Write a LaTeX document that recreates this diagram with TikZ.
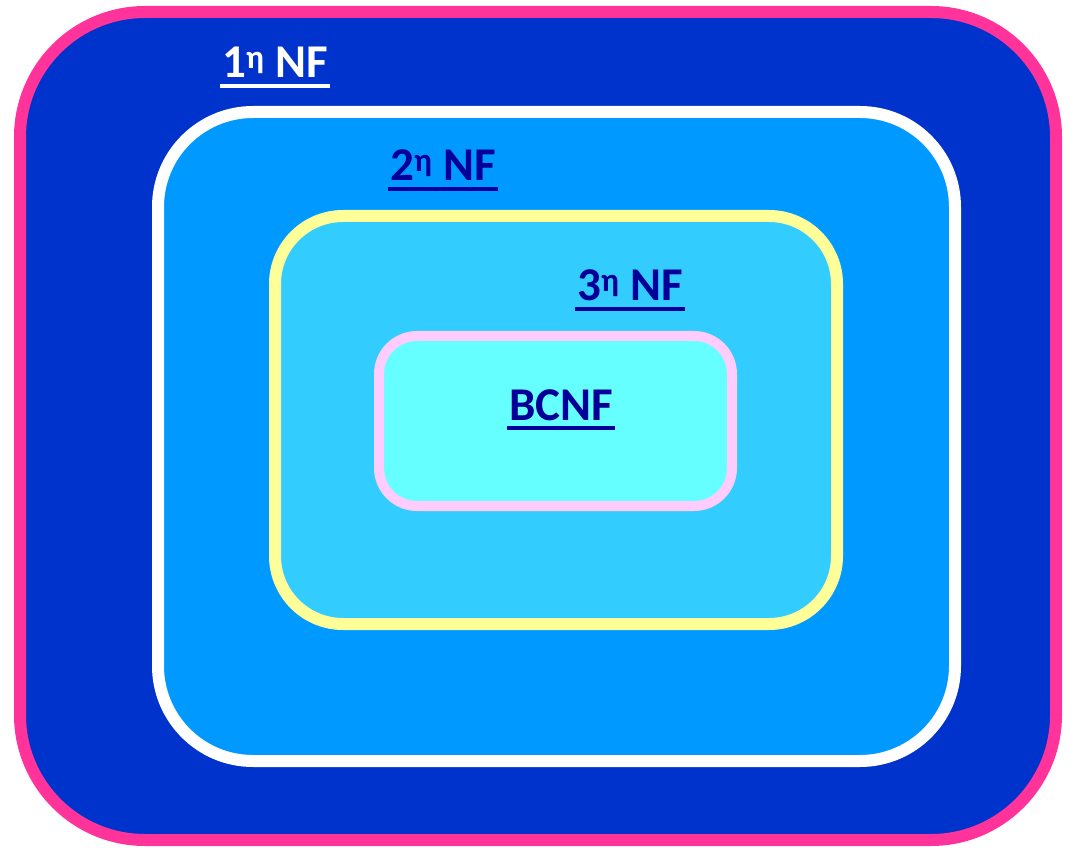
\documentclass[tikz,border=0pt]{standalone}
\usepackage{fontspec}
\setmainfont{Carlito}
\definecolor{nfpink}{HTML}{FF3399}
\definecolor{nfdark}{HTML}{0033CC}
\definecolor{nfmid}{HTML}{0099FF}
\definecolor{nfyellow}{HTML}{FFFF99}
\definecolor{nflight}{HTML}{33CCFF}
\definecolor{nflilac}{HTML}{FFCCFF}
\definecolor{nfcyan}{HTML}{66FFFF}
\definecolor{nfnavy}{HTML}{000099}
\tikzset{
  levelbox/.style={line width=12pt},
  levellabel/.style={inner sep=0pt, anchor=base, font=\fontsize{47}{50}\selectfont\bfseries},
  underbar/.style={line width=4pt}
}
\begin{document}
\begin{tikzpicture}[x=1pt,y=-1pt]
  \useasboundingbox (0,0) rectangle (1074,850);
  % nested normal-form regions
  \draw[levelbox, draw=nfpink, fill=nfdark, rounded corners=125pt] (20,12) rectangle (1056,840);
  \draw[levelbox, draw=white, fill=nfmid, rounded corners=95pt] (158,112) rectangle (955,761);
  \draw[levelbox, draw=nfyellow, fill=nflight, rounded corners=68pt] (275,216) rectangle (837,624);
  \draw[levelbox, line width=10pt, draw=nflilac, fill=nfcyan, rounded corners=38pt] (379,336) rectangle (732,506);
  % labels with underlines
  \node[levellabel, text=white] (nf1) at (275,78) {1\textsuperscript{η} NF};
  \draw[underbar, white] ([xshift=-2pt,yshift=-8pt]nf1.base west) -- ([xshift=2pt,yshift=-8pt]nf1.base east);
  \node[levellabel, text=nfnavy] (nf2) at (443,181) {2\textsuperscript{η} NF};
  \draw[underbar, nfnavy] ([xshift=-2pt,yshift=-8pt]nf2.base west) -- ([xshift=2pt,yshift=-8pt]nf2.base east);
  \node[levellabel, text=nfnavy] (nf3) at (630,301) {3\textsuperscript{η} NF};
  \draw[underbar, nfnavy] ([xshift=-2pt,yshift=-8pt]nf3.base west) -- ([xshift=2pt,yshift=-8pt]nf3.base east);
  \node[levellabel, text=nfnavy] (bcnf) at (561,420) {BCNF};
  \draw[underbar, nfnavy] ([xshift=-2pt,yshift=-8pt]bcnf.base west) -- ([xshift=2pt,yshift=-8pt]bcnf.base east);
\end{tikzpicture}
\end{document}
